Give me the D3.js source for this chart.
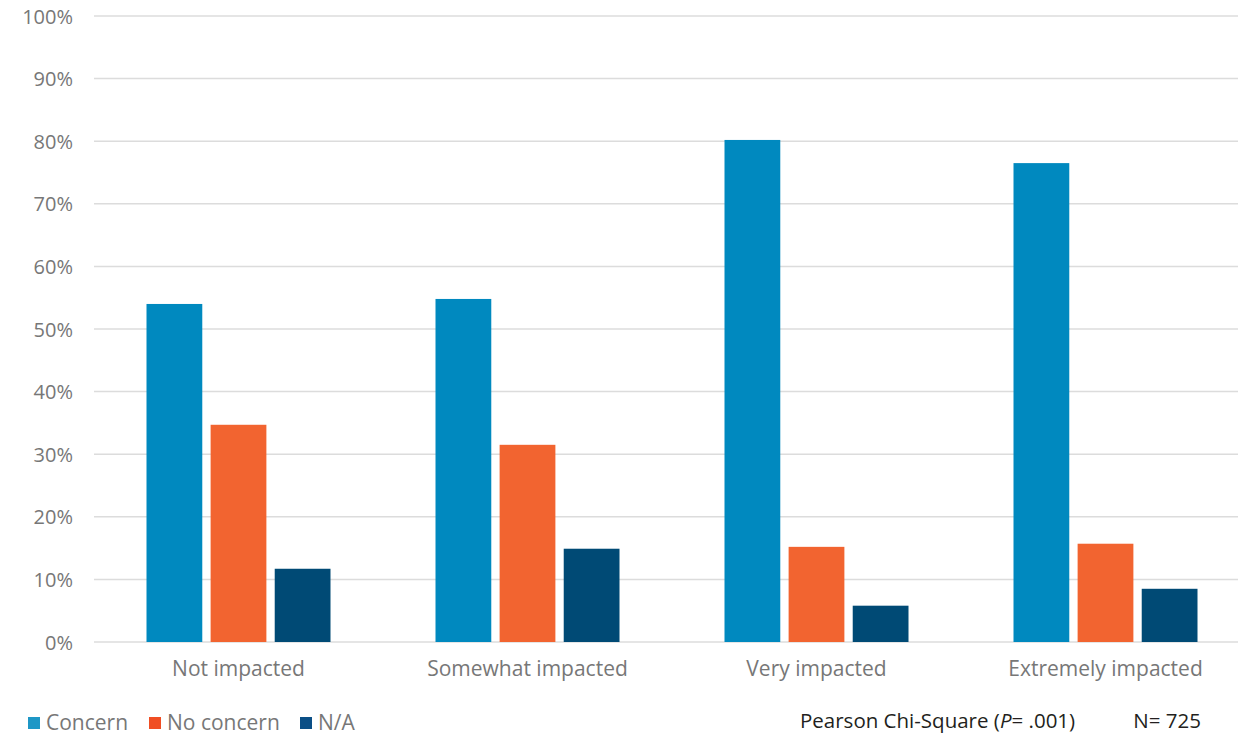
<!DOCTYPE html>
<html><head><meta charset="utf-8">
<script src="https://cdn.jsdelivr.net/npm/d3@7"></script>
<style>body{margin:0;background:#fff}svg{display:block;font-family:"Open Sans","Noto Sans",sans-serif}</style>
</head><body><svg id="c" width="1238" height="739"></svg>
<script>
const categories = ["Not impacted","Somewhat impacted","Very impacted","Extremely impacted"];
const seriesNames = ["Concern","No concern","N/A"];
const concern = [54.0, 54.8, 80.2, 76.5];
const noConcern = [34.7, 31.5, 15.2, 15.7];
const na = [11.7, 14.9, 5.8, 8.5];
const yTicks = [0,10,20,30,40,50,60,70,80,90,100];
const colors = ["#0089BF","#F26430","#004A75"];
const legendColors = ["#1E97C6","#F04E23","#0B4F86"];

const series = [concern, noConcern, na];
const svg = d3.select("#c");
const y = d3.scaleLinear().domain([0,100]).range([642,16]);
const x = d3.scaleBand().domain(categories).range([94,1250]).paddingInner(0).paddingOuter(0);
const inner = d3.scaleBand().domain(seriesNames).range([0,184]).paddingInner(0.13);

// gridlines
svg.append("g").selectAll("line").data(yTicks).join("line")
  .attr("x1",94).attr("x2",1238).attr("y1",d=>y(d)).attr("y2",d=>y(d))
  .attr("stroke","#dcdcdc").attr("stroke-width",1.5);

// y axis labels
const yAxis = d3.axisLeft(y).tickValues(yTicks).tickFormat(d=>d+"%").tickSize(0).tickPadding(0);
const ya = svg.append("g").attr("transform","translate(73,0)").call(yAxis);
ya.select(".domain").remove();
ya.selectAll("text").attr("font-size",20).attr("fill","#777").attr("font-family","'Open Sans','Noto Sans',sans-serif").attr("dy","0.35em");

// bars
categories.forEach((c,i)=>{
  const g = svg.append("g").attr("transform",`translate(${x(c)+x.bandwidth()/2-92},0)`);
  seriesNames.forEach((s,j)=>{
    g.append("rect").attr("x",inner(s)).attr("width",inner.bandwidth())
      .attr("y",y(series[j][i])).attr("height",y(0)-y(series[j][i])).attr("fill",colors[j]);
  });
});

// x axis labels
const xAxis = d3.axisBottom(x).tickSize(0).tickPadding(0);
const xa = svg.append("g").attr("transform","translate(0,669)").call(xAxis);
xa.select(".domain").remove();
xa.selectAll("text").attr("font-size",21).attr("fill","#777").attr("font-family","'Open Sans','Noto Sans',sans-serif").attr("dy","0.35em");

// legend
const legX = [28,149,300];
seriesNames.forEach((s,j)=>{
  svg.append("rect").attr("x",legX[j]).attr("y",717).attr("width",12).attr("height",12).attr("fill",legendColors[j]);
  svg.append("text").attr("x",legX[j]+18).attr("y",723).attr("dy","0.35em").attr("font-size",21).attr("fill","#777").text(s);
});

// stats
const t = svg.append("text").attr("x",800).attr("y",721).attr("dy","0.35em").attr("font-size",20.5).attr("fill","#231f20");
t.append("tspan").text("Pearson Chi-Square (");
t.append("tspan").attr("font-style","italic").text("P");
t.append("tspan").text("= .001)");
svg.append("text").attr("x",1201).attr("y",721).attr("dy","0.35em").attr("font-size",20.5).attr("fill","#231f20").attr("text-anchor","end").text("N= 725");
</script></body></html>
